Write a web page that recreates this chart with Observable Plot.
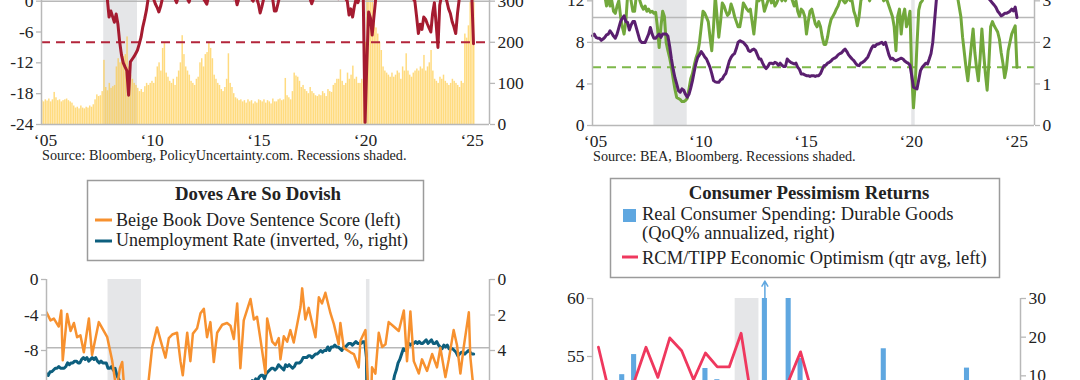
<!DOCTYPE html>
<html><head><meta charset="utf-8">
<script src="https://cdn.jsdelivr.net/npm/d3@7"></script>
<script src="https://cdn.jsdelivr.net/npm/@observablehq/plot@0.6"></script>
<style>
html,body{margin:0;padding:0;background:#fff;}
body{width:1080px;height:380px;overflow:hidden;position:relative;}
.abs{position:absolute;}
</style></head><body>
<script>
// ---------------- DATA ----------------
const yearTicks = [2005, 2010, 2015, 2020, 2025];
const recessions = [{start: 2007.917, end: 2009.5}, {start: 2020.167, end: 2020.333}];
const recessionsQ = [{start: 2020.0, end: 2020.5}];

// Top-left: policy uncertainty index (right axis, monthly from Jan 2005)
const epu = [
 58,55,60,57,62,55,60,78,65,58,60,55,
 58,60,62,58,55,52,45,40,42,38,45,40,
 38,42,40,45,42,48,60,72,68,70,80,156,
 90,82,100,88,92,95,140,160,150,175,165,170,
 213,140,120,110,100,95,88,80,85,78,92,100,
 95,100,105,100,115,140,150,130,185,197,125,115,
 105,100,110,95,115,130,150,216,170,140,130,120,
 105,100,95,110,115,150,160,140,170,175,197,185,
 160,120,110,100,95,85,80,90,110,172,100,90,
 75,65,62,58,60,55,58,52,60,55,58,50,
 55,52,60,58,55,60,52,58,55,50,62,55,
 55,60,62,58,60,112,70,65,60,80,125,118,
 115,105,90,95,85,80,75,90,80,75,70,68,
 72,70,80,75,68,85,80,78,95,100,110,110,
 133,105,95,100,125,110,120,142,110,115,100,100,
 110,105,200,400,380,330,310,253,235,220,200,180,
 140,130,125,120,115,125,115,120,130,125,110,140,
 130,172,130,120,115,125,130,135,130,140,135,168,
 130,140,150,180,130,110,105,100,115,110,120,105,
 100,95,100,110,105,100,95,90,105,100,220,210,
 240,300,330,310
];
// Top-left: red series (left axis, monthly from Jan 2005)
const tlRed = [
 3,4,3.5,4,5,4.5,4,3,3.5,4,4.5,4,
 4,4.5,5,4,3.5,3,3.5,4,4.5,4,3.5,3,
 3.5,3,2.5,3,2.5,2,2.5,2,1.5,1,1.5,1,
 1,0.5,-3.1,-1.9,-3,-4.1,-2.5,-4.5,-8,-10.5,-12,-12.8,
 -13.5,-18.3,-11.8,-11.3,-10.8,-10.2,-9.5,-8.3,-7,-5,-3.5,-1.8,
 0.5,1.5,1,0.5,-0.5,-1.2,-2.1,-1,0.5,1.5,2,2.5,
 2,1.5,1,0.5,-0.3,1,2,3,2,1,0.5,-0.2,
 1,2,3,2.5,2,1.5,1,0.5,0,-0.6,1,2,
 3,2.5,2,3,2,1.5,2,3,2.5,2,1.5,1,
 0.5,1,-0.7,0.5,1.5,2.5,3,2,1.5,1,0.5,0,
 1,0.5,-0.5,-2.3,-1,0.5,1.5,2,2,1,0.5,-1.9,
 -1.9,-0.5,1,2,2.5,3,2.5,2,1.5,2,2.5,3,
 3,3.5,3,2.5,2,1.5,1,0.5,-0.5,0.5,1.5,2,
 2.5,3,3.5,3,2.5,2,2.5,3,2,1.5,1,0.5,
 1,1.5,1,0.5,0,-2.7,-1.5,-3.1,-1,0.5,-0.3,1,
 1.5,0.5,-23.6,-12,-2.1,-3.2,-6.6,-3,0.5,1.5,2,2.5,
 3,3.5,4,4,3.5,3,3.5,4,3.5,3,3,2.5,
 3,2.5,2,1.5,1,0.5,0,-3,-6.3,-4.5,-5.5,-3.1,
 -3.5,-4.4,-5.2,-6,-2.4,-0.3,-4.5,-9,-0.8,1,2,1,
 0,-1.5,-2.4,-4,-5,-6.3,-2.4,0.5,2,1.5,1.5,2,
 2.5,1,1.5,-8.3
];
const tlDash = [-8];
const tlLeftTicks = [-24, -18, -12, -6, 0, 6, 12];
const tlRightTicks = [0, 100, 200, 300, 400];
const tlRefs = [0];

// Top-right: green (left axis) and purple (right axis), monthly from Jan 2005
const trGreen = [
 13,13,13,13,13,13,13,12.5,11.5,12.5,11.5,12,
 11,10.8,11.5,12,10.5,9.5,8.8,10,12.5,13,12,11,
 11,12.5,13,12,11.5,11.2,11.5,11,11.2,10.9,11,10.8,
 10.9,9.5,7.5,9.5,11,10.5,8,7.2,6.5,5.6,4.5,3.5,
 2.7,2.6,2.5,2.3,2.3,2.4,2.6,3.5,4.5,5,5.8,6.5,
 7,8,9.5,11,10.8,10.4,10,8.5,7.2,9.5,12.5,10.5,
 8.5,10,11.8,11.5,11,10.6,10.8,11.7,11.2,10.5,10,9.5,
 9.5,10.5,11.8,11.5,11.2,11,11.2,10,8.8,10.5,12.5,12,
 12.5,12,11,11.5,12,12.5,11.8,12.2,11.5,11.8,12.2,12.5,
 12,12.5,12,12.5,13,12.5,12,11.5,12,11,10.5,11.2,
 11,10.5,8.8,10,11,11.2,10.5,9.8,9.5,10,9.5,8.5,
 7.8,7.8,8.5,9.5,10.2,10.5,10.8,11.2,11.5,12,12.5,12,
 11.8,12,12.5,12,12,11,10.5,9.6,10.5,12,12.5,13,
 13,12.5,12,12.5,13,13,12.5,12.8,13,12.5,12,12.2,
 12,11.5,11,10.5,9.5,7.2,10.5,11.2,8.8,10.5,11.2,9.5,
 10,11,5,1.7,4,7.8,11.1,11.8,12,12.5,13,13,
 13,13,13,13,13,13,13,13,13,13,13,13,
 13,13,13,13,12.5,11.5,10.5,8.5,7,5.5,4.3,6,
 7.7,9.3,7,5.5,4.3,6.5,9.3,7,5,3.4,6,9.5,
 10,9.6,9.3,9,8.3,7,6,4.6,5.5,7.2,8,8.8,
 9.2,9.6,5.6
];
const trPurple = [
 2.16,2.2,2.12,2.1,2.1,2.05,2.08,2.12,2.18,2.2,2.28,2.22,
 2.15,2.1,2.2,2.35,2.5,2.58,2.64,2.5,2.48,2.3,2.42,2.5,
 2.5,2.35,2.2,2.05,2,2,2,2.1,2.2,2.36,2.2,2.1,
 2.1,2.15,2.2,2.12,2.2,2.2,2.2,2.15,1.9,1.6,1.35,1.15,
 1,0.84,0.8,0.88,0.85,0.75,0.68,0.75,0.9,1.08,1.3,1.5,
 1.64,1.7,1.78,1.72,1.65,1.6,1.5,1.4,1.25,1.08,1.05,1.04,
 1.04,1.1,1.12,1.2,1.25,1.4,1.55,1.64,1.7,1.73,1.85,2,
 2.04,2.02,2,1.95,1.9,1.8,1.78,1.82,1.84,1.8,1.7,1.6,
 1.6,1.5,1.42,1.37,1.42,1.5,1.5,1.48,1.52,1.5,1.45,1.5,
 1.45,1.42,1.42,1.6,1.55,1.52,1.5,1.48,1.5,1.4,1.35,1.24,
 1.24,1.22,1.2,1.2,1.18,1.2,1.2,1.18,1.2,1.2,1.25,1.35,
 1.44,1.45,1.5,1.52,1.55,1.6,1.62,1.65,1.7,1.73,1.75,1.8,
 1.84,1.78,1.7,1.65,1.6,1.56,1.5,1.45,1.44,1.5,1.52,1.55,
 1.6,1.65,1.75,1.85,1.92,1.9,1.95,1.96,1.98,2,1.95,2,
 1.85,1.7,1.6,1.62,1.58,1.56,1.58,1.6,1.62,1.6,1.55,1.52,
 1.5,1.45,1.2,0.92,0.9,0.88,1.1,1.32,1.4,1.45,1.5,1.48,
 1.6,1.73,2,2.5,3,3.3,3.5,3.6,3.7,3.8,3.8,3.9,
 3.9,3.9,3.9,3.9,3.9,3.8,3.8,3.7,3.7,3.6,3.6,3.5,
 3.5,3.5,3.4,3.4,3.3,3.3,3.3,3.2,3.2,3.1,3.05,3,
 2.95,2.9,2.84,2.75,2.7,2.64,2.66,2.7,2.7,2.72,2.75,2.8,
 2.76,2.85,2.6
];
const trDash = [5.6];
const trRefs = [8, 10.4];
const trLeftTicks = [0, 4, 8, 12, 16];
const trRightTicks = [0, 1, 2, 3, 4];

// Bottom-left: Beige Book dove score (left) [date, score]
const doveScore = [
 [2005.0,-3.7],[2005.19,-4.6],[2005.35,-4.4],[2005.58,-5.3],[2005.7,-3.5],[2005.77,-9.1],[2005.98,-3.9],
 [2006.14,-5.8],[2006.3,-4.9],[2006.45,-6.5],[2006.61,-6.3],[2006.77,-8.2],[2007.01,-4.4],[2007.16,-8.5],
 [2007.48,-4.8],[2007.88,-6.5],[2008.11,-9.1],[2008.32,-12.5],[2008.48,-10.0],[2008.59,-9.3],[2008.74,-14],
 [2009.0,-16],[2009.3,-18],[2009.55,-15],[2009.77,-13],[2010.01,-7.6],[2010.24,-5.4],[2010.4,-6.8],
 [2010.64,-8.8],[2010.8,-6.6],[2010.96,-6.2],[2011.19,-6.0],[2011.35,-9.2],[2011.46,-10.8],[2011.67,-6.0],
 [2011.82,-9.2],[2011.94,-6.1],[2012.14,-5.5],[2012.3,-3.8],[2012.46,-3.3],[2012.61,-6.5],[2012.77,-4.8],
 [2012.93,-9.3],[2013.09,-6.0],[2013.33,-5.1],[2013.56,-4.9],[2013.72,-5.2],[2013.88,-6.7],[2014.04,-2.7],
 [2014.19,-10.0],[2014.35,-4.6],[2014.67,-2.2],[2014.83,-4.5],[2014.98,-4.2],[2015.14,-6.7],[2015.38,-10.6],
 [2015.46,-4.4],[2015.7,-7.0],[2015.85,-7.4],[2016.01,-6.6],[2016.09,-9.0],[2016.25,-6.4],[2016.41,-7.0],
 [2016.56,-5.7],[2016.72,-7.1],[2017.04,-3.1],[2017.12,-1.0],[2017.27,-4.5],[2017.43,-3.2],[2017.59,-4.9],
 [2017.75,-6.5],[2017.91,-2.0],[2018.06,-2.7],[2018.22,-1.5],[2018.46,-3.8],[2018.62,-5.0],[2018.85,-7.3],
 [2018.93,-4.9],[2019.09,-7.7],[2019.41,-8.2],[2019.57,-8.4],[2019.8,-9.9],[2019.88,-6.9],[2020.12,-5.7],
 [2020.28,-14],[2020.36,-16],[2020.43,-9.9],[2020.59,-10.6],[2020.75,-6.0],[2020.91,-7.6],[2021.07,-7.3],
 [2021.22,-4.8],[2021.46,-5.3],[2021.7,-5.8],[2021.94,-3.5],[2022.09,-9.2],[2022.25,-3.6],[2022.41,-9.2],
 [2022.65,-10.6],[2022.8,-9.0],[2023.04,-10.3],[2023.28,-8.4],[2023.51,-9.9],[2023.67,-7.7],[2023.91,-11.0],
 [2024.07,-9.0],[2024.3,-5.7],[2024.46,-7.4],[2024.62,-10.6],[2024.78,-7.6],[2025.02,-3.7],[2025.09,-8.7],
 [2025.25,-12.5]
];
// Bottom-left: unemployment rate (%, inverted, right axis), monthly from Jan 2005
const unemployment = [
 5.3,5.4,5.2,5.2,5.1,5.0,5.0,4.9,5.0,5.0,5.0,4.9,
 4.7,4.8,4.7,4.7,4.6,4.6,4.7,4.7,4.5,4.4,4.5,4.4,
 4.6,4.5,4.4,4.5,4.4,4.6,4.7,4.6,4.7,4.7,4.7,5.0,
 5.0,4.9,5.1,5.0,5.4,5.6,5.8,6.1,6.1,6.5,6.8,7.3,
 7.8,8.3,8.7,9.0,9.4,9.5,9.5,9.6,9.8,10.0,9.9,9.9,
 9.8,9.8,9.9,9.9,9.6,9.4,9.4,9.5,9.5,9.4,9.8,9.3,
 9.1,9.0,9.0,9.1,9.0,9.1,9.0,9.0,9.0,8.8,8.6,8.5,
 8.3,8.3,8.2,8.2,8.2,8.2,8.2,8.1,7.8,7.8,7.7,7.9,
 8.0,7.7,7.5,7.6,7.5,7.5,7.3,7.2,7.2,7.2,6.9,6.7,
 6.6,6.7,6.7,6.2,6.3,6.1,6.2,6.1,5.9,5.7,5.8,5.6,
 5.7,5.5,5.4,5.4,5.6,5.3,5.2,5.1,5.0,5.0,5.1,5.0,
 4.8,4.9,5.0,5.1,4.8,4.9,4.8,4.9,5.0,4.9,4.7,4.7,
 4.7,4.6,4.4,4.4,4.4,4.3,4.3,4.4,4.3,4.2,4.2,4.1,
 4.0,4.1,4.0,4.0,3.8,4.0,3.8,3.8,3.7,3.8,3.8,3.9,
 4.0,3.8,3.8,3.7,3.6,3.6,3.7,3.6,3.5,3.6,3.6,3.6,
 3.5,3.5,4.4,14.8,13.2,11.0,10.2,8.4,7.8,6.8,6.7,6.7,
 6.4,6.2,6.1,6.1,5.8,5.9,5.4,5.1,4.7,4.5,4.2,3.9,
 4.0,3.8,3.6,3.7,3.6,3.6,3.5,3.6,3.5,3.6,3.6,3.5,
 3.4,3.6,3.5,3.4,3.6,3.6,3.5,3.7,3.8,3.9,3.7,3.8,
 3.7,3.9,3.9,3.9,4.0,4.1,4.3,4.2,4.1,4.1,4.2,4.1,
 4.0,4.1,4.2,4.2
];
const blRefs = [-7.7];
const blLeftTicks = [0, -4, -8, -12, -16, -20, -24];
const blRightTicks = [0, 2, 4, 6, 8, 10, 12];

// Bottom-right: quarterly from 2017Q1
const durables = [
 -0.1, 8.0, 10.3, 15.5,
 -2.0, 8.6, 3.6, -0.9,
 0.3, 11.9, 9.0, 3.1,
 -12.5, -1.7, 82, -0.9,
 30, 14.5, -24.6, 2.5,
 5.9, -0.1, -0.8, -1.2,
 17, -0.3, 6.7, 3.2,
 -2.8, 4.7, 7.6, 12,
 -3.4
];
const optimism = [
 55.8, 51.5, 51.0, 52.8,
 55.8, 53.2, 56.6, 55.5,
 53.0, 55.3, 54.1, 54.1,
 57.0, 50.5, 48.5, 50.5,
 52.9, 55.4, 51.8, 44.5,
 42.5, 41.5, 40.8, 43.0,
 42.5, 42.0, 41.5, 42.0,
 43.5, 42.5, 44.0, 50.0,
 49.5
];
const brTruncated = [{q: 14, from: 30, to: 34.5}];
const brLeftTicks = [40, 45, 50, 55, 60];
const brRightTicks = [-30, -20, -10, 0, 10, 20, 30];

// ---------------- STYLE ----------------
const FONT = "'Liberation Serif','Times New Roman',serif";
const AXIS = "#b8b8b8";
const SHADE = "#e5e6e8";
const TICK_FS = 17.5;
const yearFmt = d => "\u2018" + String(d).slice(2);
const monthly = arr => arr.map((v, i) => ({t: 2005 + i / 12, v}));
const baseStyle = {fontFamily: FONT, fontSize: TICK_FS + "px", color: "#222", background: "none", overflow: "visible"};

function place(svg, left, top, w) {
  const d = document.createElement("div");
  d.className = "abs";
  d.style.left = left + "px"; d.style.top = top + "px"; d.style.width = w + "px";
  d.appendChild(svg);
  document.body.appendChild(d);
}
const yAx = (ticks, anchor, fmt) => Plot.axisY(ticks, {anchor, tickSize: 5, tickPadding: 3, stroke: AXIS, strokeWidth: 1.3, tickFormat: fmt, label: null, fontSize: TICK_FS});
const xAx = (ticks, dx) => Plot.axisX(ticks, {tickSize: 0, tickPadding: 9, dx, tickFormat: yearFmt, label: null, fontSize: TICK_FS});

// ---------- Top-left ----------
const tlR = v => -24 + v * 0.08;
const tl = Plot.plot({
  width: 540, height: 240, marginTop: 10, marginBottom: 45, marginLeft: 41, marginRight: 51,
  x: {domain: [2005, 2026], label: null}, y: {domain: [-24, 12], label: null},
  style: baseStyle,
  marks: [
    Plot.rectY(recessions, {x1: "start", x2: "end", y1: -24, y2: 12, fill: SHADE}),
    Plot.rectY(monthly(epu), {x1: "t", x2: d => d.t + 1/12, y1: -24, y2: d => tlR(d.v), fill: "#ffc531", fillOpacity: 0.62, insetRight: 0.3, clip: true}),
    Plot.ruleY(tlRefs, {stroke: AXIS, strokeWidth: 1.5}),
    Plot.ruleY(tlDash, {stroke: "#b3253b", strokeWidth: 2, strokeDasharray: "9,6"}),
    Plot.line(monthly(tlRed), {x: "t", y: "v", stroke: "#a51b30", strokeWidth: 3, clip: true}),
    Plot.ruleX([2005, 2026], {stroke: AXIS, strokeWidth: 1.5}),
    Plot.ruleY([-24], {stroke: AXIS, strokeWidth: 1.5}),
    yAx(tlLeftTicks, "left", d => String(d)),
    yAx(tlRightTicks.map(tlR), "right", d => String(Math.round((d + 24) / 0.08))),
    xAx(yearTicks, 4)
  ]
});
place(tl, 0, -71, 540);

// ---------- Top-right ----------
const trR = v => v * 4;
const tr = Plot.plot({
  width: 540, height: 242, marginTop: 10, marginBottom: 45, marginLeft: 52, marginRight: 46,
  x: {domain: [2005, 2026], label: null}, y: {domain: [0, 18], label: null},
  style: baseStyle,
  marks: [
    Plot.rectY(recessions, {x1: "start", x2: "end", y1: 0, y2: 18, fill: SHADE}),
    Plot.ruleY(trRefs, {stroke: AXIS, strokeWidth: 1.5}),
    Plot.ruleY(trDash, {stroke: "#7db84a", strokeWidth: 2, strokeDasharray: "9,6"}),
    Plot.line(monthly(trGreen), {x: "t", y: "v", stroke: "#72a83c", strokeWidth: 3}),
    Plot.line(monthly(trPurple), {x: "t", y: d => trR(d.v), stroke: "#5a1f6f", strokeWidth: 3}),
    Plot.ruleX([2005, 2026], {stroke: AXIS, strokeWidth: 1.5}),
    Plot.ruleY([0], {stroke: AXIS, strokeWidth: 1.5}),
    yAx(trLeftTicks, "left", d => String(d)),
    yAx(trRightTicks.map(trR), "right", d => String(d / 4)),
    xAx(yearTicks, 3)
  ]
});
place(tr, 540, -72, 540);

// ---------- Bottom-left ----------
const blR = u => -2 * u;
const bl = Plot.plot({
  width: 540, height: 272, marginTop: 19, marginBottom: 40, marginLeft: 46, marginRight: 51,
  x: {domain: [2005, 2026], label: null}, y: {domain: [-24, 0], label: null},
  style: baseStyle,
  marks: [
    Plot.rectY(recessions, {x1: "start", x2: "end", y1: -24, y2: 0, fill: SHADE}),
    Plot.ruleY(blRefs, {stroke: AXIS, strokeWidth: 1.5}),
    Plot.line(monthly(unemployment), {x: "t", y: d => blR(d.v), stroke: "#0d5f7e", strokeWidth: 3, clip: true}),
    Plot.line(doveScore, {x: d => d[0], y: d => d[1], stroke: "#f7912f", strokeWidth: 2.5, clip: true}),
    Plot.ruleX([2005, 2026], {stroke: AXIS, strokeWidth: 1.5}),
    yAx(blLeftTicks, "left", d => String(d)),
    yAx(blRightTicks.map(blR), "right", d => String(-d / 2)),
    xAx(yearTicks, 4)
  ]
});
place(bl, 0, 260, 540);

// ---------- Bottom-right ----------
const brR = r => 50 + r / 3;
const qData = durables.map((v, i) => ({t0: 2017 + i / 4, t1: 2017 + (i + 1) / 4, v, o: optimism[i]}));
const br = Plot.plot({
  width: 540, height: 300, marginTop: 28, marginBottom: 40, marginLeft: 52, marginRight: 60,
  x: {domain: [2017, 2026], label: null}, y: {domain: [40, 60], label: null},
  style: baseStyle,
  marks: [
    Plot.rectY(recessionsQ, {x1: "start", x2: "end", y1: 40, y2: 60, fill: SHADE}),
    Plot.rectY(qData, {x1: "t0", x2: "t1", y1: brR(0), y2: d => brR(d.v), fill: "#5fa7e0", insetLeft: 3.4, insetRight: 3.4, clip: true}),
    Plot.arrow(brTruncated, {x1: d => qData[d.q].t0 + 0.125, x2: d => qData[d.q].t0 + 0.125, y1: d => brR(d.from), y2: d => brR(d.to), stroke: "#5fa7e0", strokeWidth: 1.5, headLength: 7}),
    Plot.line(qData, {x: d => (d.t0 + d.t1) / 2, y: "o", stroke: "#ef385e", strokeWidth: 2.8, clip: true}),
    Plot.ruleX([2017, 2026], {stroke: AXIS, strokeWidth: 1.5}),
    yAx(brLeftTicks, "left", d => String(d)),
    yAx(brRightTicks.map(brR), "right", d => String(Math.round((d - 50) * 3))),
    xAx([2018, 2020, 2022, 2024], 0)
  ]
});
place(br, 540, 270, 540);

// ---------- Legends & captions ----------
const ov = d3.create("svg").attr("width", 1080).attr("height", 380)
  .style("position", "absolute").style("left", "0px").style("top", "0px")
  .style("font-family", FONT).style("fill", "#222");
const txt = (x, y, s, size, opt = {}) => ov.append("text").attr("x", x).attr("y", y)
  .attr("font-size", size).attr("text-anchor", opt.anchor || "start")
  .attr("font-weight", opt.bold ? "bold" : "normal").attr("fill", "#222").text(s);

txt(42, 160, "Source: Bloomberg, PolicyUncertainty.com. Recessions shaded.", 14.2);
txt(593, 160.5, "Source: BEA, Bloomberg. Recessions shaded.", 14.2);

// Bottom-left legend
ov.append("rect").attr("x", 87.5).attr("y", 180.5).attr("width", 336).attr("height", 80)
  .attr("fill", "#fff").attr("stroke", "#9b9b9b").attr("stroke-width", 1.5);
txt(258, 200, "Doves Are So Dovish", 18.8, {anchor: "middle", bold: true});
ov.append("line").attr("x1", 95).attr("x2", 112).attr("y1", 220).attr("y2", 220).attr("stroke", "#f7912f").attr("stroke-width", 3);
txt(116, 225.5, "Beige Book Dove Sentence Score (left)", 18);
ov.append("line").attr("x1", 95).attr("x2", 112).attr("y1", 241).attr("y2", 241).attr("stroke", "#0d5f7e").attr("stroke-width", 3);
txt(116, 246, "Unemployment Rate (inverted, %, right)", 18);

// Bottom-right legend
ov.append("rect").attr("x", 610.5).attr("y", 178.5).attr("width", 389).attr("height", 99)
  .attr("fill", "#fff").attr("stroke", "#9b9b9b").attr("stroke-width", 1.5);
txt(809, 199, "Consumer Pessimism Returns", 18.8, {anchor: "middle", bold: true});
ov.append("rect").attr("x", 623).attr("y", 209).attr("width", 13).attr("height", 13).attr("fill", "#5fa7e0");
txt(642, 220, "Real Consumer Spending: Durable Goods", 18.5);
txt(642, 238.5, "(QoQ% annualized, right)", 18.5);
ov.append("line").attr("x1", 622).attr("x2", 638).attr("y1", 257).attr("y2", 257).attr("stroke", "#ef385e").attr("stroke-width", 3);
txt(642, 264, "RCM/TIPP Economic Optimism (qtr avg, left)", 18.5);

document.body.appendChild(ov.node());
</script>
</body></html>
